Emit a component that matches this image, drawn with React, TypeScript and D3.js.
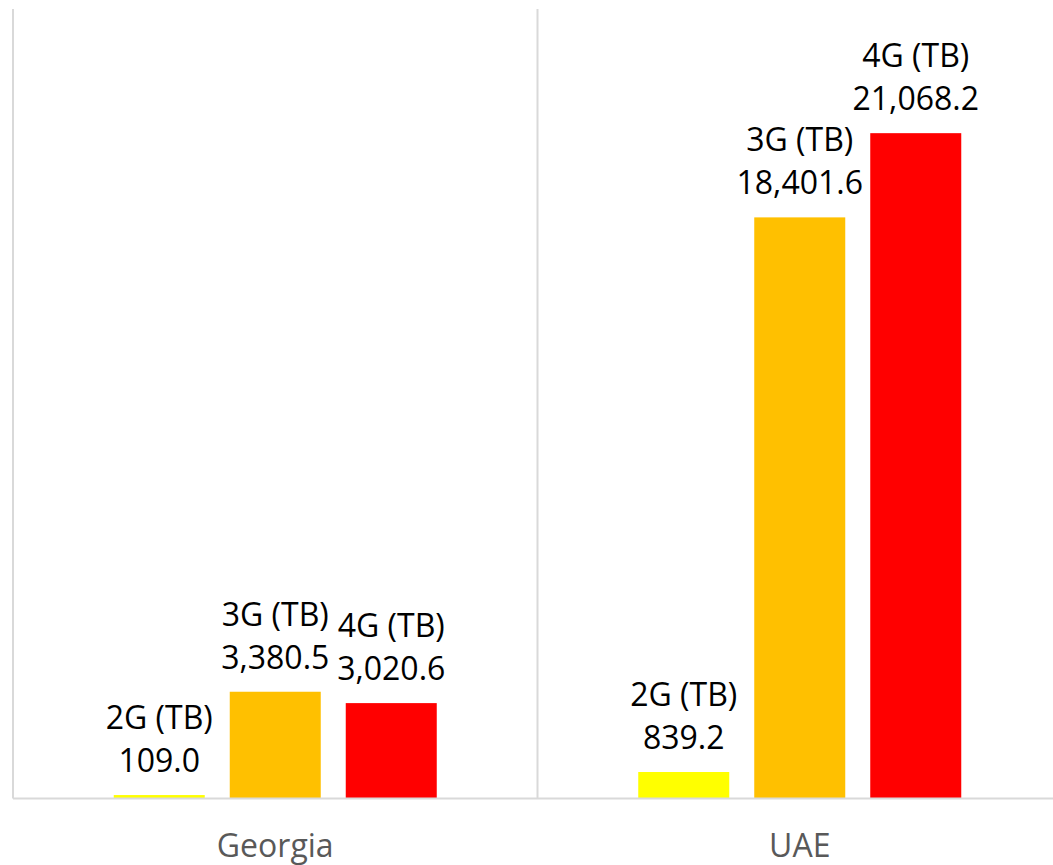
import React, { useEffect, useRef } from "react";
import * as d3 from "d3";

const categories = ["Georgia", "UAE"];
const seriesNames = ["2G (TB)", "3G (TB)", "4G (TB)"];
const seriesColors = ["#FFFF00", "#FFC000", "#FF0000"];
const values2G = [109.0, 839.2];
const values3G = [3380.5, 18401.6];
const values4G = [3020.6, 21068.2];
const yMax = 25000;

export default function App() {
  const ref = useRef<SVGSVGElement>(null);

  useEffect(() => {
    const seriesValues = [values2G, values3G, values4G];
    const data = categories.flatMap((c, ci) =>
      seriesNames.map((s, si) => ({
        category: c,
        series: s,
        value: seriesValues[si][ci],
        color: seriesColors[si],
      }))
    );

    const svg = d3.select(ref.current);
    svg.selectAll("*").remove();

    const width = 1053,
      height = 865,
      margin = { top: 9, right: -9, bottom: 66.5, left: 13 };

    const x0 = d3
      .scaleBand()
      .domain(categories)
      .range([margin.left, width - margin.right])
      .padding(0);

    const x1 = d3
      .scaleBand()
      .domain(seriesNames)
      .range([0, x0.bandwidth()])
      .paddingInner(0.2155)
      .paddingOuter(0.8685);

    const y = d3
      .scaleLinear()
      .domain([0, yMax])
      .range([height - margin.bottom, margin.top]);

    const chart = svg.attr("width", width).attr("height", height);
    const font = "'Open Sans', 'Noto Sans', sans-serif";

    // category separators
    const edges = categories.map((c) => x0(c)!).concat([x0(categories[categories.length - 1])! + x0.bandwidth()]);
    chart
      .selectAll(".sep")
      .data(edges)
      .enter()
      .append("line")
      .attr("x1", (d) => d)
      .attr("x2", (d) => d)
      .attr("y1", y(yMax))
      .attr("y2", y(0))
      .attr("stroke", "#d9d9d9")
      .attr("stroke-width", 2);

    chart
      .selectAll(".bar")
      .data(data)
      .enter()
      .append("rect")
      .attr("class", "bar")
      .attr("x", (d) => x0(d.category)! + x1(d.series)!)
      .attr("y", (d) => y(d.value))
      .attr("width", x1.bandwidth())
      .attr("height", (d) => y(0) - y(d.value))
      .attr("fill", (d) => d.color);

    // baseline
    chart
      .append("line")
      .attr("x1", x0.range()[0])
      .attr("x2", x0.range()[1])
      .attr("y1", y(0))
      .attr("y2", y(0))
      .attr("stroke", "#d9d9d9")
      .attr("stroke-width", 2);

    const fmt = d3.format(",.1f");
    const labels = chart
      .selectAll(".label")
      .data(data)
      .enter()
      .append("text")
      .attr("class", "label")
      .attr("text-anchor", "middle")
      .attr("font-family", font)
      .attr("font-size", 32)
      .attr("fill", "#000");

    labels
      .append("tspan")
      .attr("x", (d) => x0(d.category)! + x1(d.series)! + x1.bandwidth() / 2)
      .attr("y", (d) => y(d.value) - 66)
      .text((d) => d.series);

    labels
      .append("tspan")
      .attr("x", (d) => x0(d.category)! + x1(d.series)! + x1.bandwidth() / 2)
      .attr("y", (d) => y(d.value) - 23)
      .text((d) => fmt(d.value));

    chart
      .selectAll(".cat")
      .data(categories)
      .enter()
      .append("text")
      .attr("x", (d) => x0(d)! + x0.bandwidth() / 2)
      .attr("y", 857)
      .attr("text-anchor", "middle")
      .attr("font-family", font)
      .attr("font-size", 32)
      .attr("fill", "#595959")
      .text((d) => d);
  }, []);

  return (
    <svg
      ref={ref}
      style={{ position: "absolute", left: 0, top: 0, display: "block" }}
    ></svg>
  );
}
